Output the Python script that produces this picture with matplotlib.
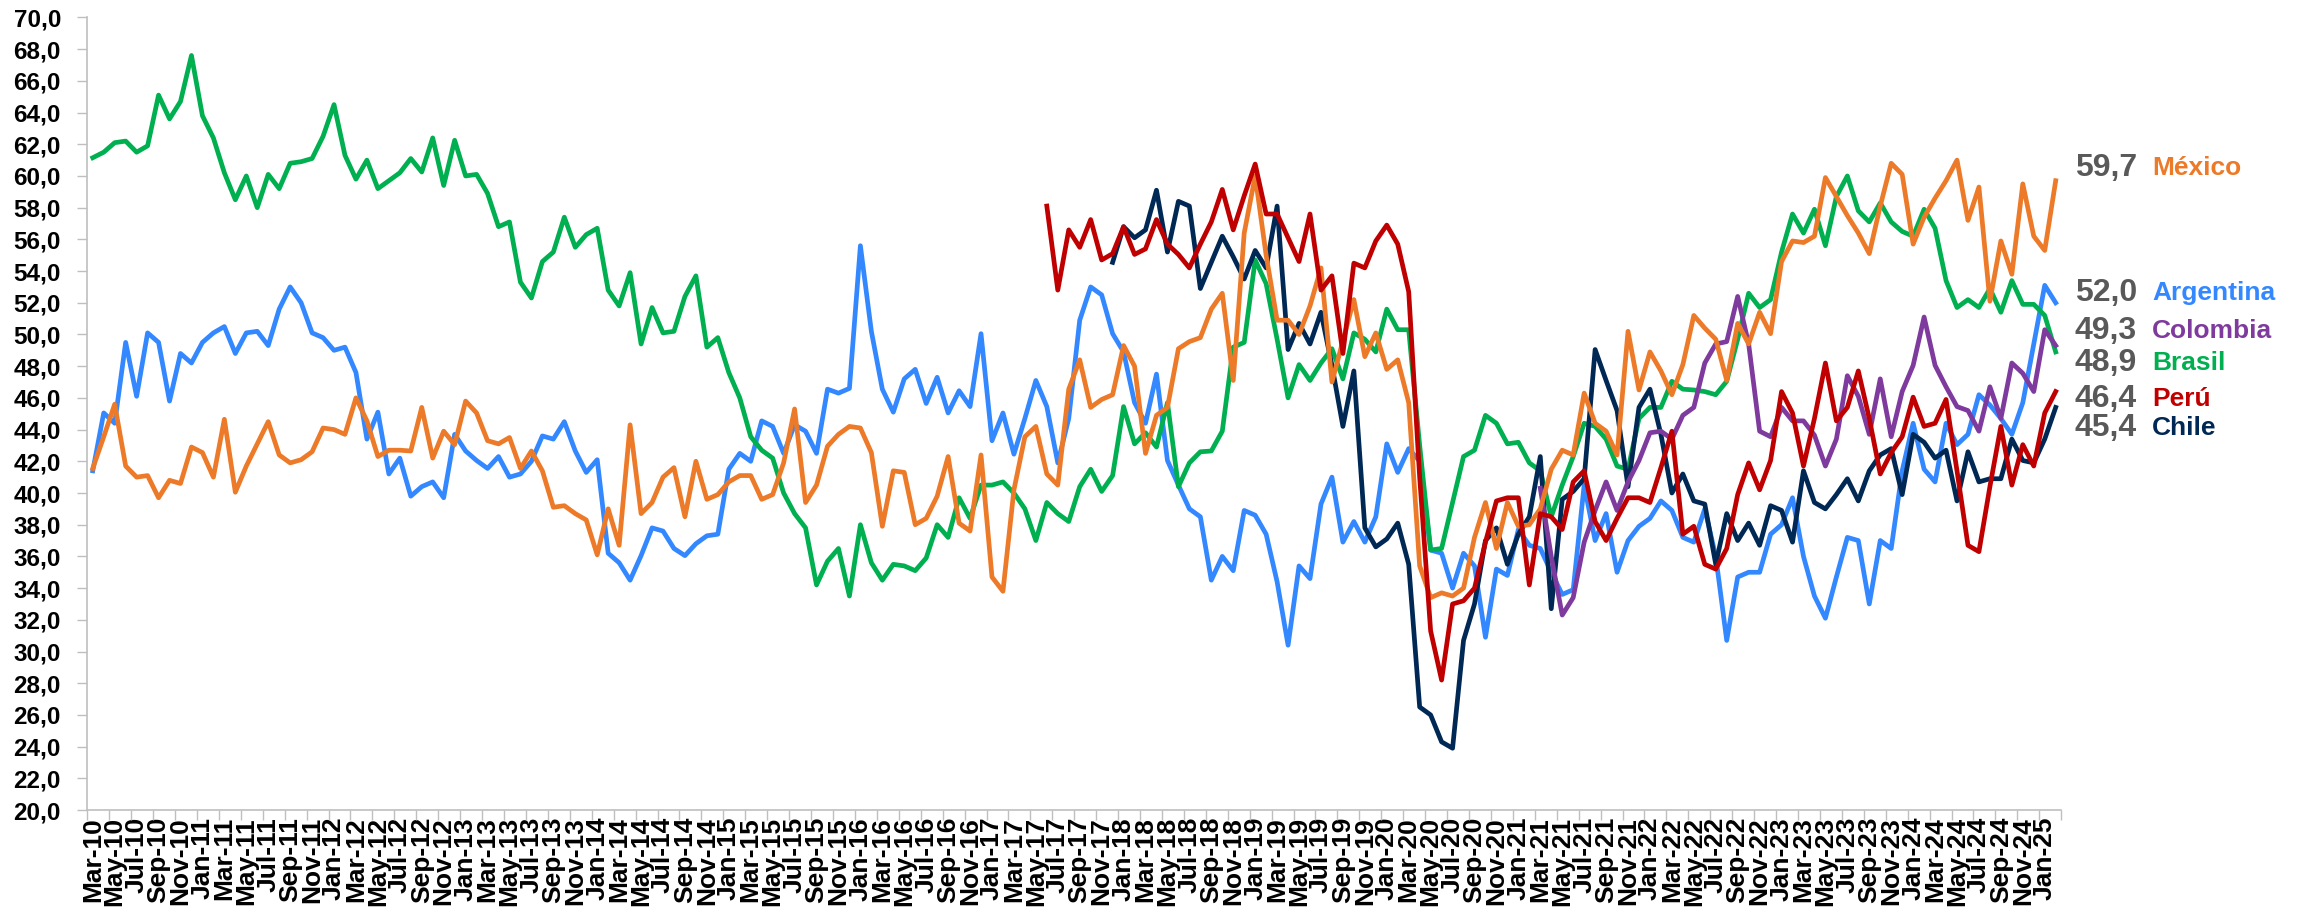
import numpy as np
import pandas as pd
import matplotlib
matplotlib.use("Agg")
import matplotlib.pyplot as plt
from matplotlib.ticker import FixedLocator, FuncFormatter

plt.rcParams['font.family'] = ['Liberation Sans', 'DejaVu Sans']

months = pd.date_range('2010-03-01', periods=180, freq='MS').strftime('%b-%y').tolist()
NA = np.nan

brasil = [
    61.15, 61.5, 62.1, 62.2, 61.5, 61.9, 65.1, 63.6, 64.7, 67.6,
    63.8, 62.4, 60.2, 58.5, 60.0, 58.0, 60.1, 59.2, 60.8, 60.9,
    61.1, 62.5, 64.5, 61.3, 59.8, 61.0, 59.2, 59.7, 60.2, 61.1,
    60.25, 62.4, 59.4, 62.25, 60.0, 60.1, 58.9, 56.8, 57.1, 53.3,
    52.3, 54.6, 55.2, 57.4, 55.5, 56.3, 56.7, 52.8, 51.8, 53.9,
    49.4, 51.7, 50.1, 50.2, 52.4, 53.7, 49.2, 49.8, 47.6, 46.0,
    43.55, 42.7, 42.2, 40.0, 38.7, 37.8, 34.2, 35.7, 36.5, 33.5,
    38.0, 35.6, 34.5, 35.5, 35.4, 35.1, 35.9, 38.0, 37.2, 39.7,
    38.4, 40.5, 40.5, 40.7, 40.0, 39.0, 37.0, 39.4, 38.7, 38.2,
    40.4, 41.5, 40.1, 41.1, 45.45, 43.1, 43.8, 42.9, 45.7, 40.4,
    41.9, 42.6, 42.65, 43.9, 49.2, 49.5, 54.7, 53.2, 49.7, 46.0,
    48.1, 47.1, 48.2, 49.1, 47.2, 50.1, 49.7, 48.9, 51.6, 50.3,
    50.3, 43.0, 36.4, 36.5, 39.4, 42.3, 42.7, 44.9, 44.4, 43.1,
    43.2, 41.9, 41.4, 38.5, 40.5, 42.3, 44.4, 44.2, 43.4, 41.7,
    41.5, 44.7, 45.4, 45.4, 47.05, 46.55, 46.5, 46.4, 46.2, 47.05,
    49.7, 52.6, 51.7, 52.2, 55.2, 57.6, 56.4, 57.9, 55.6, 58.7,
    60.0, 57.8, 57.1, 58.3, 57.1, 56.5, 56.2, 57.9, 56.7, 53.4,
    51.7, 52.2, 51.7, 52.9, 51.4, 53.4, 51.9, 51.9, 51.2, 48.9,
]

argentina = [
    41.4, 45.05, 44.4, 49.5, 46.1, 50.1, 49.5, 45.8, 48.8, 48.2,
    49.5, 50.1, 50.5, 48.8, 50.1, 50.2, 49.3, 51.6, 53.0, 52.0,
    50.1, 49.8, 49.0, 49.2, 47.6, 43.4, 45.1, 41.2, 42.2, 39.8,
    40.4, 40.7, 39.7, 43.7, 42.65, 42.05, 41.55, 42.3, 41.0, 41.2,
    42.0, 43.6, 43.4, 44.5, 42.65, 41.3, 42.1, 36.2, 35.6, 34.5,
    36.05, 37.8, 37.6, 36.5, 36.05, 36.8, 37.3, 37.4, 41.5, 42.5,
    42.0, 44.55, 44.2, 42.5, 44.3, 43.9, 42.5, 46.55, 46.3, 46.6,
    55.6, 50.2, 46.55, 45.1, 47.2, 47.8, 45.65, 47.3, 45.05, 46.45,
    45.45, 50.05, 43.3, 45.05, 42.45, 44.7, 47.1, 45.45, 41.9, 44.7,
    50.9, 53.0, 52.5, 50.05, 48.9, 45.7, 44.4, 47.5, 42.05, 40.5,
    39.0, 38.5, 34.5, 36.0, 35.1, 38.9, 38.6, 37.4, 34.4, 30.4,
    35.4, 34.6, 39.3, 41.0, 36.9, 38.2, 36.9, 38.5, 43.1, 41.3,
    42.8, 42.0, 36.4, 36.2, 34.0, 36.2, 35.4, 30.9, 35.2, 34.8,
    37.7, 36.7, 36.5, 35.0, 33.6, 33.9, 40.5, 37.0, 38.7, 35.0,
    37.0, 37.9, 38.4, 39.5, 38.9, 37.2, 36.9, 39.0, 36.0, 30.7,
    34.7, 35.0, 35.0, 37.4, 38.0, 39.7, 36.0, 33.5, 32.1, 34.7,
    37.2, 37.0, 33.0, 37.0, 36.5, 41.4, 44.4, 41.5, 40.7, 44.4,
    43.05, 43.7, 46.2, 45.55, 44.7, 43.7, 45.7, 49.4, 53.1, 52.0,
]

mexico = [
    41.55, 43.55, 45.6, 41.7, 41.0, 41.1, 39.7, 40.8, 40.6, 42.9,
    42.55, 41.0, 44.65, 40.05, 41.7, 43.1, 44.5, 42.4, 41.9, 42.1,
    42.6, 44.1, 44.0, 43.7, 46.0, 44.55, 42.3, 42.7, 42.7, 42.65,
    45.4, 42.2, 43.9, 43.05, 45.8, 45.05, 43.3, 43.1, 43.5, 41.55,
    42.65, 41.4, 39.1, 39.2, 38.7, 38.3, 36.1, 39.0, 36.7, 44.3,
    38.7, 39.4, 41.0, 41.6, 38.5, 42.0, 39.6, 39.9, 40.7, 41.1,
    41.1, 39.6, 39.9, 41.9, 45.3, 39.4, 40.5, 42.95, 43.7, 44.2,
    44.1, 42.55, 37.9, 41.4, 41.3, 38.0, 38.4, 39.8, 42.3, 38.1,
    37.6, 42.4, 34.7, 33.8, 40.2, 43.55, 44.2, 41.2, 40.5, 46.55,
    48.4, 45.4, 45.9, 46.2, 49.3, 48.0, 42.5, 44.9, 45.4, 49.1,
    49.55, 49.8, 51.6, 52.6, 47.1, 56.4, 60.0, 55.0, 50.9, 50.9,
    50.0, 51.8, 54.2, 47.0, 49.6, 52.2, 48.6, 50.1, 47.8, 48.4,
    45.7, 35.4, 33.4, 33.7, 33.5, 34.0, 37.2, 39.4, 36.5, 39.4,
    37.9, 38.0, 39.0, 41.5, 42.7, 42.4, 46.3, 44.4, 43.9, 42.4,
    50.2, 46.5, 48.9, 47.7, 46.2, 48.1, 51.2, 50.4, 49.7, 47.1,
    50.7, 49.4, 51.4, 50.05, 54.6, 55.9, 55.8, 56.2, 59.9, 58.7,
    57.5, 56.4, 55.1, 58.1, 60.8, 60.1, 55.7, 57.4, 58.6, 59.7,
    61.0, 57.2, 59.3, 52.1, 55.9, 53.8, 59.5, 56.2, 55.3, 59.7,
]

peru = [NA] * 87 + [
    58.1, 52.8, 56.6,
    55.5, 57.25, 54.7, 55.1, 56.8, 55.05, 55.4, 57.25, 55.7, 55.05,
    54.2, 55.7, 57.1, 59.15, 56.6, 58.75, 60.75, 57.6, 57.6, 56.1,
    54.6, 57.6, 52.8, 53.7, 48.8, 54.5, 54.2, 55.9, 56.9, 55.7,
    52.7, 41.0, 31.3, 28.2, 33.0, 33.2, 34.0, 36.9, 39.5, 39.7,
    39.7, 34.2, 38.7, 38.5, 37.7, 40.7, 41.4, 38.2, 37.0, 38.4,
    39.7, 39.7, 39.4, 41.6, 43.9, 37.4, 37.9, 35.5, 35.2, 36.5,
    39.9, 41.9, 40.2, 42.05, 46.4, 45.05, 41.7, 44.7, 48.2, 44.55,
    45.4, 47.7, 44.7, 41.2, 42.55, 43.55, 46.05, 44.2, 44.4, 45.9,
    41.4, 36.7, 36.3, 40.4, 44.2, 40.5, 43.05, 41.7, 45.05, 46.4,
]

chile = [NA] * 93 + [
    54.55, 56.8, 56.1, 56.6, 59.1, 55.2, 58.4,
    58.1, 52.9, 54.55, 56.2, 54.9, 53.5, 55.3, 54.2, 58.1, 49.05,
    50.7, 49.4, 51.4, 48.05, 44.2, 47.7, 37.8, 36.6, 37.1, 38.1,
    35.5, 26.5, 26.0, 24.3, 23.9, 30.7, 33.0, 37.0, 37.8, 35.5,
    37.4, 38.5, 42.3, 32.7, 39.6, 40.1, 40.9, 49.05, 47.1, 45.2,
    40.4, 45.4, 46.55, 43.7, 40.0, 41.2, 39.5, 39.3, 35.5, 38.7,
    37.0, 38.1, 36.7, 39.2, 38.9, 36.9, 41.4, 39.4, 39.0, 39.9,
    40.9, 39.5, 41.4, 42.4, 42.8, 39.9, 43.7, 43.2, 42.2, 42.7,
    39.5, 42.6, 40.7, 40.9, 40.9, 43.4, 42.05, 41.9, 43.4, 45.4,
]

colombia = [NA] * 132 + [
    40.3, 36.0, 32.3, 33.4, 36.9, 38.9, 40.7, 38.9,
    40.7, 42.05, 43.8, 43.9, 43.4, 44.9, 45.4, 48.2, 49.4, 49.55,
    52.4, 49.4, 43.9, 43.55, 45.4, 44.55, 44.55, 43.65, 41.7, 43.4,
    47.4, 46.1, 43.7, 47.2, 43.55, 46.4, 48.05, 51.1, 48.05, 46.7,
    45.45, 45.2, 43.9, 46.7, 44.7, 48.2, 47.55, 46.4, 50.3, 49.3,
]

# name, values, colour, label y position
series = [
    ("Argentina", argentina, "#3388FF", 52.6),
    ("Brasil", brasil, "#00B050", 48.2),
    ("Chile", chile, "#002855", 44.1),
    ("Colombia", colombia, "#7F3A9E", 50.2),
    ("México", mexico, "#EC7A28", 60.5),
    ("Perú", peru, "#C00000", 45.9),
]

fig = plt.figure(figsize=(23.03, 9.18), dpi=100)
ax = fig.add_axes([0.0379, 0.1176, 0.8571, 0.8634])

x = np.arange(len(months))
for z, (name, vals, col, ly) in enumerate(series):
    v = np.array(vals, dtype=float)
    ax.plot(x, v, color=col, lw=3.4, zorder=3 + z, solid_joinstyle='round')
    last = v[~np.isnan(v)][-1]
    ax.text(1.0384, ly, f"{last:.1f}".replace('.', ','), transform=ax.get_yaxis_transform(),
            ha='right', va='center', fontsize=23, fontweight='bold', color='#595959')
    ax.text(1.046, ly, name, transform=ax.get_yaxis_transform(),
            ha='left', va='center', fontsize=19, fontweight='bold', color=col)

ax.set_xlim(-0.5, len(months) - 0.5)
ax.set_ylim(20, 70)
ax.set_yticks(np.arange(20, 71, 2))
ax.yaxis.set_major_formatter(FuncFormatter(lambda v, p: f"{v:.1f}".replace('.', ',')))

ax.set_xticks(x[::2])
ax.set_xticklabels(months[::2], rotation=90, fontsize=19, fontweight='bold')
ax.xaxis.set_minor_locator(FixedLocator(np.arange(-0.5, len(months), 2)))
ax.tick_params(axis='x', which='major', length=0, pad=5)
ax.tick_params(axis='x', which='minor', length=7, color='#BFBFBF', width=1)
ax.tick_params(axis='y', length=7, color='#BFBFBF', width=1, pad=12)
for lab in ax.get_yticklabels():
    lab.set_fontsize(17.5)
    lab.set_fontweight('bold')

for s in ['top', 'right']:
    ax.spines[s].set_visible(False)
for s in ['left', 'bottom']:
    ax.spines[s].set_color('#BFBFBF')
    ax.spines[s].set_linewidth(1.2)

fig.savefig("out.png", dpi=100)
